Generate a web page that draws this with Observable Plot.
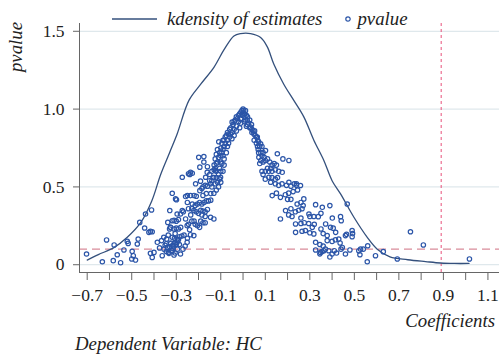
<!DOCTYPE html>
<html><head><meta charset="utf-8">
<script src="https://cdn.jsdelivr.net/npm/d3@7"></script>
<script src="https://cdn.jsdelivr.net/npm/@observablehq/plot@0.6"></script>
<style>
body{margin:0;background:#fff;}
#wrap{position:relative;width:499px;height:354px;overflow:hidden;font-family:"Liberation Serif",Tinos,"Times New Roman",Times,serif;color:#222;}
.lab{position:absolute;font-style:italic;font-size:18.8px;white-space:nowrap;line-height:1;}
#legend{display:flex;align-items:center;}
</style></head><body>
<div id="wrap">
  <div id="chart"></div>
  <div id="legend" class="lab" style="top:10px;left:112px;">
    <svg width="45" height="6" style="margin-right:10px"><line x1="0" y1="3" x2="45" y2="3" stroke="#34507c" stroke-width="1.3"/></svg>
    <span>kdensity of estimates</span>
    <svg width="10" height="10" style="margin-left:21px;margin-right:4px"><circle cx="5" cy="5" r="2.2" fill="none" stroke="#2b55a8" stroke-width="1.2"/></svg>
    <span>pvalue</span>
  </div>
  <div class="lab" style="left:16px;top:47px;transform:translate(-50%,-50%) rotate(-90deg);">pvalue</div>
  <div class="lab" style="right:4px;top:312px;">Coefficients</div>
  <div class="lab" style="left:75px;top:334.5px;">Dependent Variable: HC</div>
</div>
<script>
// axis ticks and reference lines
const xTicks = d3.range(-7, 12).map(i => i / 10);
const yTicks = [0, 0.5, 1, 1.5];
const xDomain = [-0.7346, 1.152];
const yDomain = [-0.05, 1.55];
const pThreshold = [0.1];
const coefMark = [0.89];

// kernel density of estimates
const kdX = [-0.70,-0.65,-0.58,-0.52,-0.46,-0.41,-0.37,-0.33,-0.296,-0.243,-0.19,-0.13,-0.086,-0.041,-0.011,0.034,0.079,0.109,0.138,0.183,0.228,0.273,0.318,0.363,0.40,0.438,0.498,0.558,0.603,0.66,0.74,0.82,0.887,0.95,1.015];
const kdY = [0.03,0.065,0.11,0.176,0.27,0.41,0.58,0.72,0.84,1.056,1.16,1.27,1.38,1.47,1.485,1.485,1.46,1.40,1.29,1.16,1.056,0.95,0.80,0.67,0.54,0.455,0.305,0.176,0.10,0.05,0.032,0.02,0.011,0.008,0.008];

// coefficient estimates and p-values
const estimates = [
[-0.703,0.069],[-0.632,0.019],[-0.613,0.159],[-0.583,0.026],[-0.579,0.127],[-0.565,0.064],[-0.550,0.013],[-0.535,0.095],[-0.520,0.150],[-0.516,0.137],[-0.498,0.086],[-0.493,0.058],[-0.500,0.037],[-0.483,0.030],[-0.475,0.133],[-0.471,0.165],[-0.464,0.272],[-0.442,0.236],[-0.438,0.326],[-0.423,0.208],[-0.416,0.214],[-0.411,0.352],[-0.408,0.212],[-0.416,0.073],[-0.408,0.047],[-0.400,0.079],
[-0.385,0.144],[-0.375,0.108],[-0.366,0.155],[-0.363,0.058],[-0.356,0.176],[-0.350,0.125],[-0.343,0.165],[-0.336,0.190],[-0.338,0.272],[-0.329,0.348],[-0.318,0.459],[-0.330,0.230],[-0.326,0.240],[-0.333,0.073],[-0.345,0.085],[-0.322,0.090],[-0.318,0.176],[-0.318,0.283],[-0.318,0.090],[-0.312,0.120],[-0.305,0.200],[-0.310,0.062],[-0.355,0.100],[-0.340,0.110],
[-0.345,0.135],[-0.335,0.080],[-0.330,0.115],[-0.325,0.140],[-0.315,0.105],[-0.300,0.130],[-0.305,0.075],[-0.295,0.100],[-0.290,0.160],
[-0.303,0.423],[-0.299,0.417],[-0.296,0.326],[-0.281,0.326],[-0.273,0.348],[-0.268,0.340],[-0.273,0.562],[-0.258,0.438],[-0.250,0.444],[-0.258,0.294],[-0.251,0.251],[-0.245,0.260],[-0.310,0.285],[-0.300,0.280],[-0.290,0.290],[-0.326,0.240],[-0.310,0.230],[-0.300,0.235],[-0.290,0.230],[-0.280,0.240],[-0.236,0.193],[-0.221,0.187],[-0.308,0.170],[-0.295,0.165],[-0.285,0.180],[-0.275,0.185],[-0.265,0.190],[-0.251,0.144],[-0.326,0.135],[-0.316,0.125],[-0.306,0.138],[-0.296,0.145],[-0.286,0.130],[-0.281,0.069],[-0.270,0.100],[-0.260,0.120],[-0.250,0.170],
[-0.236,0.444],[-0.228,0.390],[-0.221,0.348],[-0.239,0.580],[-0.228,0.588],[-0.213,0.520],[-0.220,0.445],[-0.210,0.440],[-0.215,0.380],[-0.205,0.390],[-0.210,0.340],[-0.200,0.330],[-0.235,0.320],[-0.230,0.280],[-0.220,0.280],[-0.215,0.260],[-0.240,0.225],[-0.205,0.250],[-0.230,0.360],[-0.245,0.360],[-0.250,0.400],
[-0.194,0.476],[-0.185,0.490],[-0.180,0.500],[-0.170,0.510],[-0.160,0.505],[-0.131,0.459],[-0.145,0.457],[-0.165,0.457],[-0.180,0.445],[-0.195,0.400],[-0.185,0.390],[-0.175,0.400],[-0.165,0.410],[-0.155,0.410],[-0.145,0.415],[-0.190,0.350],[-0.180,0.345],[-0.170,0.340],[-0.160,0.355],[-0.146,0.305],[-0.170,0.310],[-0.185,0.320],[-0.190,0.280],[-0.180,0.270],[-0.170,0.270],[-0.195,0.240],[-0.131,0.294],
[-0.199,0.690],[-0.176,0.695],[-0.176,0.660],[-0.194,0.627],[-0.160,0.630],[-0.161,0.594],[-0.236,0.594],[-0.245,0.585],[-0.191,0.537],[-0.168,0.562],[-0.146,0.520],[-0.124,0.605],[-0.101,0.562],
[-0.150,0.540],[-0.140,0.540],[-0.135,0.560],[-0.131,0.560],[-0.150,0.580],[-0.140,0.600],[-0.130,0.610],[-0.125,0.620],[-0.120,0.600],[-0.130,0.640],[-0.120,0.650],[-0.115,0.660],[-0.125,0.680],[-0.110,0.690],[-0.120,0.710],[-0.105,0.720],[-0.115,0.740],[-0.100,0.750],[-0.109,0.790],[-0.110,0.580],[-0.120,0.560],[-0.105,0.620],[-0.100,0.660],[-0.140,0.500],[-0.125,0.520],[-0.115,0.530],[-0.105,0.550],[-0.120,0.480],[-0.110,0.500],[-0.100,0.530],
[-0.095,0.780],[-0.090,0.800],[-0.086,0.800],[-0.085,0.760],[-0.080,0.820],[-0.075,0.830],[-0.070,0.850],[-0.065,0.840],[-0.056,0.840],[-0.060,0.870],[-0.055,0.880],[-0.049,0.916],[-0.045,0.900],[-0.040,0.920],[-0.035,0.930],[-0.030,0.950],[-0.025,0.940],[-0.020,0.960],[-0.015,0.970],[-0.010,0.980],[-0.005,0.990],[0.000,1.000],[-0.004,0.960],[-0.010,0.940],[-0.020,0.920],[-0.030,0.890],[-0.040,0.870],[-0.050,0.850],[-0.060,0.820],[-0.070,0.800],[-0.080,0.780],[-0.090,0.740],[-0.095,0.720],[-0.100,0.700],[-0.090,0.700],[-0.085,0.680],[-0.095,0.650],[-0.085,0.640],[-0.090,0.600],[-0.100,0.600],[-0.075,0.720],[-0.070,0.760],[-0.065,0.780],[-0.050,0.810],[-0.040,0.830],[-0.030,0.860],[-0.010,0.910],[-0.015,0.880],
[0.003,0.990],[0.006,0.970],[0.011,0.990],[0.008,0.950],[0.015,0.960],[0.019,0.927],[0.020,0.950],[0.025,0.910],[0.030,0.930],[0.034,0.884],[0.038,0.900],[0.040,0.870],[0.045,0.860],[0.049,0.840],[0.052,0.860],[0.055,0.830],[0.060,0.820],[0.064,0.820],[0.066,0.800],[0.070,0.790],[0.079,0.777],[0.075,0.760],[0.085,0.760],[0.071,0.690],[0.068,0.740],[0.080,0.720],[0.090,0.720],[0.101,0.734],[0.085,0.700],[0.095,0.690],[0.080,0.670],[0.075,0.650],[0.090,0.660],[0.100,0.670],[0.110,0.680],[0.010,0.930],[0.020,0.900],[0.030,0.880],[0.040,0.850],[0.050,0.800],[0.060,0.780],[0.065,0.760],[0.070,0.720],[0.005,0.920],[0.015,0.890],
[0.154,0.713],[0.179,0.680],[0.206,0.670],[0.120,0.660],[0.130,0.640],[0.140,0.650],[0.150,0.640],[0.110,0.620],[0.125,0.620],[0.145,0.610],[0.100,0.600],[0.115,0.600],[0.130,0.600],[0.176,0.594],[0.160,0.600],[0.116,0.562],[0.130,0.560],[0.145,0.550],[0.155,0.560],[0.090,0.580],[0.206,0.530],[0.230,0.520],[0.240,0.520],[0.100,0.550],[0.085,0.600],[0.124,0.530],[0.145,0.520],[0.160,0.510],[0.175,0.520],[0.195,0.510],[0.215,0.505],[0.240,0.510],[0.258,0.509],
[0.131,0.444],[0.150,0.460],[0.168,0.433],[0.190,0.450],[0.205,0.460],[0.225,0.470],[0.245,0.480],[0.273,0.423],[0.200,0.420],[0.215,0.420],[0.243,0.390],[0.260,0.400],[0.270,0.380],[0.326,0.386],[0.191,0.348],[0.215,0.360],[0.235,0.340],[0.250,0.350],[0.265,0.360],[0.296,0.326],[0.168,0.294],[0.205,0.320],[0.220,0.310],[0.260,0.300],[0.300,0.310],[0.318,0.310],[0.338,0.309],[0.236,0.262],[0.260,0.265],[0.275,0.270],[0.295,0.265],[0.311,0.240],[0.320,0.260],[0.236,0.208],[0.265,0.215],[0.280,0.220],[0.300,0.205],[0.318,0.198],[0.326,0.144],[0.326,0.095],[0.348,0.079],[0.355,0.085],
[0.356,0.369],[0.390,0.380],[0.468,0.390],[0.371,0.262],[0.401,0.300],[0.438,0.309],[0.441,0.283],[0.393,0.240],[0.405,0.235],[0.416,0.208],[0.378,0.187],[0.378,0.155],[0.400,0.150],[0.415,0.160],[0.430,0.165],[0.436,0.140],[0.446,0.111],[0.460,0.187],[0.465,0.195],[0.490,0.219],[0.492,0.200],[0.490,0.180],[0.363,0.090],[0.385,0.090],[0.410,0.090],[0.440,0.100],[0.480,0.095],[0.345,0.070],[0.400,0.069],[0.460,0.069],[0.520,0.090],[0.528,0.100],[0.540,0.100],[0.560,0.122],[0.525,0.064],[0.558,0.019],[0.595,0.058],[0.630,0.084],[0.693,0.037],[0.752,0.212],[0.810,0.127],[1.017,0.037],[0.350,0.230],[0.360,0.200],[0.345,0.130],[0.360,0.120],[0.370,0.100],[0.390,0.050],[0.420,0.075],[0.350,0.330]
];

const density = kdX.map((x, i) => ({x, y: kdY[i]}));
const fmt = d3.format(".1f");

const chart = Plot.plot({
  width: 499, height: 335,
  marginLeft: 79, marginRight: 0, marginTop: 23, marginBottom: 63,
  style: {fontFamily: '"Liberation Serif",Tinos,"Times New Roman",Times,serif', fontSize: "17.5px", color: "#222", background: "transparent"},
  x: {domain: xDomain},
  y: {domain: yDomain},
  marks: [
    Plot.gridY(yTicks, {stroke: "#dfe8ec", strokeOpacity: 1, strokeWidth: 1.2}),
    Plot.ruleY(pThreshold, {stroke: "#d98c9a", strokeDasharray: "8,5", strokeWidth: 1.2}),
    Plot.ruleX(coefMark, {stroke: "#e8507a", strokeDasharray: "3,3", strokeWidth: 1}),
    Plot.line(density, {x: "x", y: "y", curve: "catmull-rom", stroke: "#34507c", strokeWidth: 1.3}),
    Plot.dot(estimates, {x: d => d[0], y: d => d[1], r: 2.2, stroke: "#2b55a8", strokeWidth: 1.2, fill: "none"}),
    Plot.ruleX([xDomain[0]], {stroke: "#666"}),
    Plot.ruleY([yDomain[0]], {stroke: "#666"}),
    Plot.axisX(xTicks, {tickSize: 8, tickPadding: 8, stroke: "#666", label: null,
      tickFormat: d => (Math.round(d * 10) % 2 !== 0) ? fmt(d) : ""}),
    Plot.axisY(yTicks, {tickSize: 6, tickPadding: 9, stroke: "#666", label: null,
      tickFormat: d => d === 0 ? "0" : fmt(d)})
  ]
});
document.getElementById("chart").appendChild(chart);
</script>
</body></html>
